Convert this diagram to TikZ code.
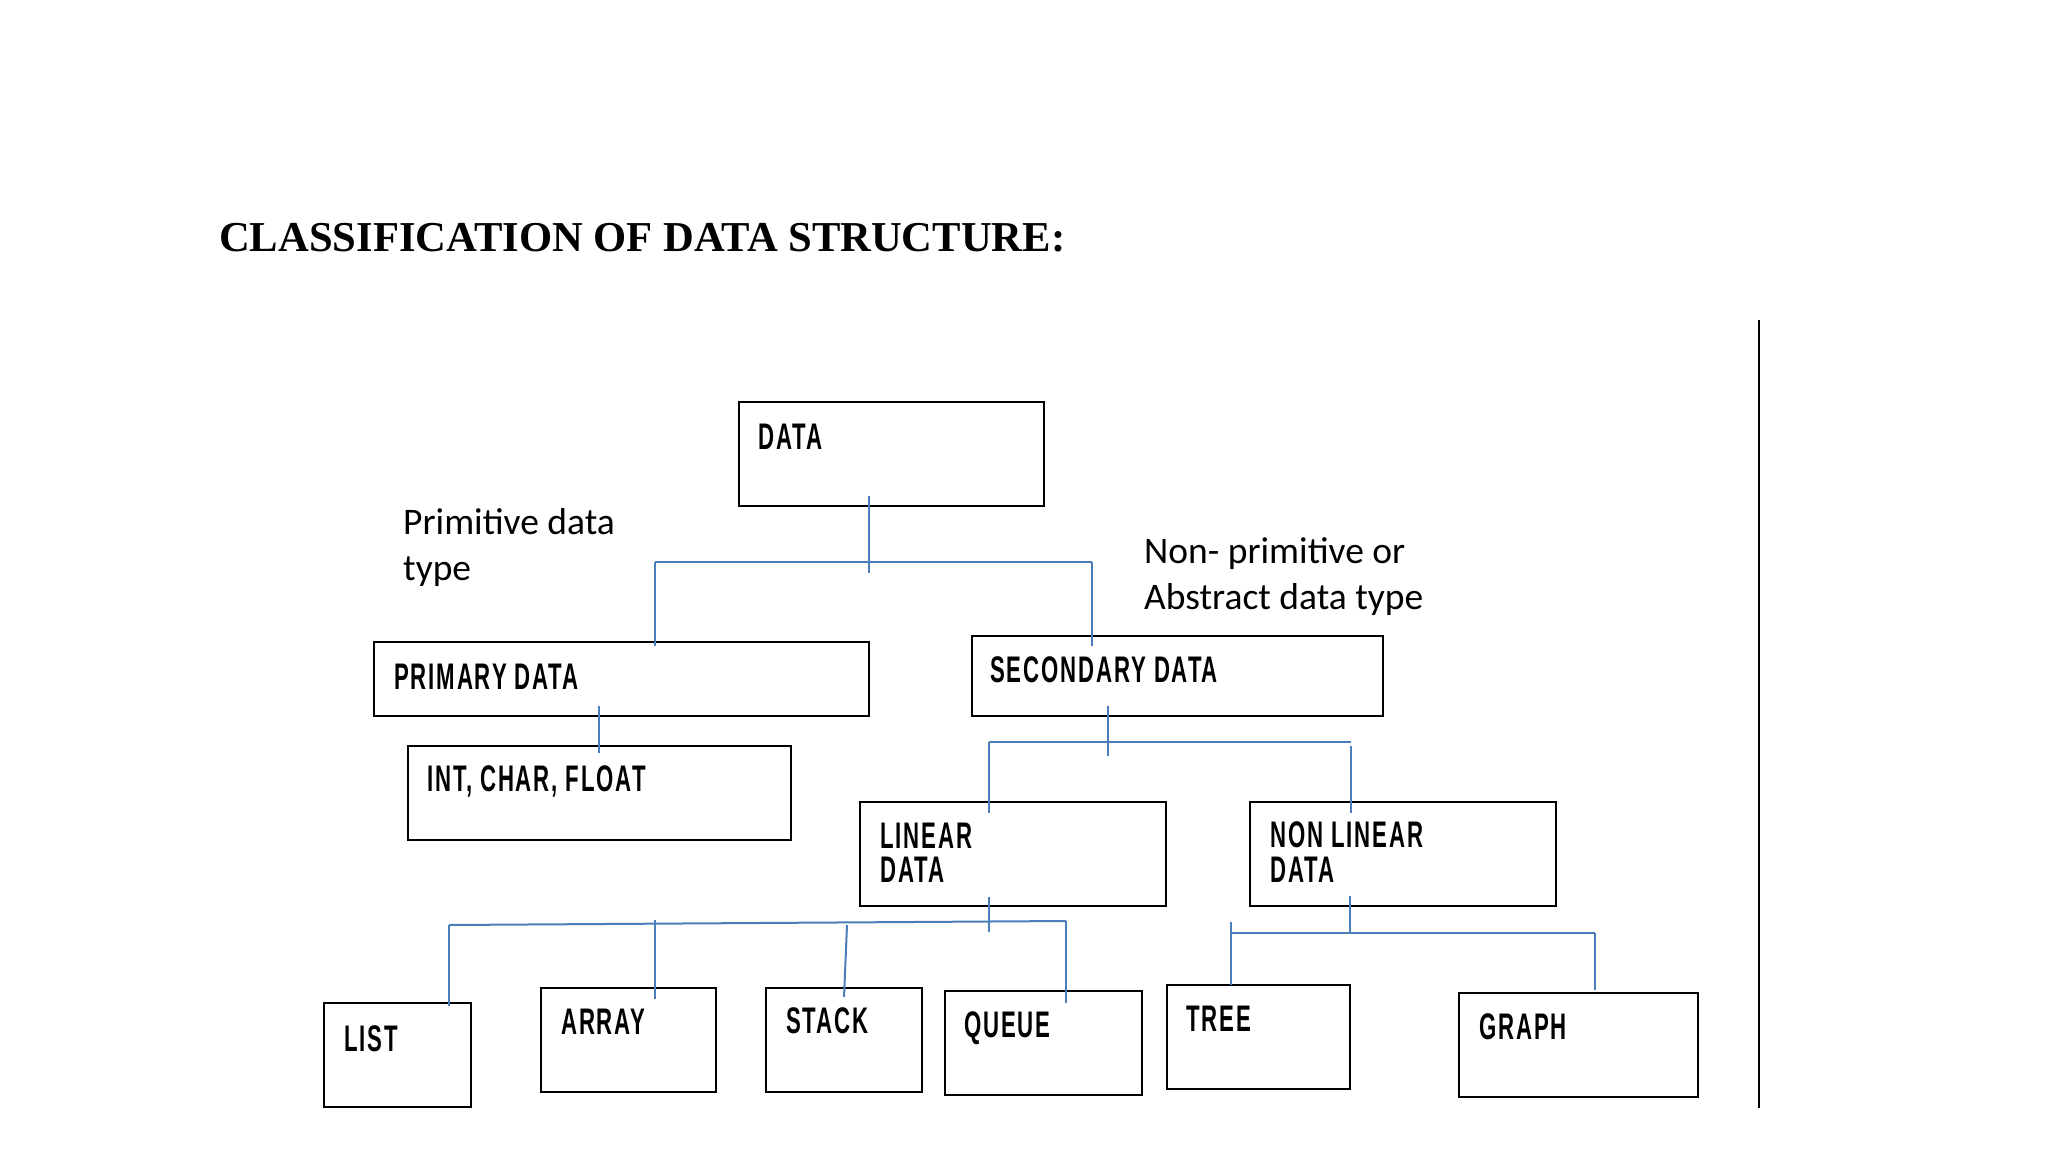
\documentclass[tikz,border=0pt]{standalone}
\usepackage{fontspec}
\setmainfont{Liberation Serif}
\newfontfamily\calibfont{Carlito}
\newfontfamily\boxfont{Liberation Sans}[FakeStretch=0.6,LetterSpace=5]
\usetikzlibrary{calc}
\definecolor{connblue}{HTML}{4A7EBB}
\begin{document}
\begin{tikzpicture}[x=1pt,y=-1pt,
  box/.style={draw=black, line width=1.6pt, anchor=north west, inner sep=0pt, outer sep=0pt},
  btext/.style={anchor=base west, inner sep=0pt, font=\boxfont\bfseries\fontsize{37}{37}\selectfont},
  side/.style={anchor=base west, inner sep=0pt, font=\calibfont\fontsize{37.5}{46}\selectfont},
  conn/.style={draw=connblue, line width=2pt},
  rule/.style={draw=black, line width=2pt}]
\useasboundingbox[fill=white] (0,0) rectangle (2048,1152);

% title
\node[anchor=base west, inner sep=0pt, font=\bfseries\fontsize{42.6}{42.6}\selectfont] (title) at (219,251) {CLASSIFICATION OF DATA STRUCTURE:};

% side labels
\node[side] (pl1) at (403,534) {Primitive data};
\node[side] (pl2) at (403,580) {type};
\node[side] (np1) at (1144,563) {Non- primitive or};
\node[side] (np2) at (1144,609) {Abstract data type};

% boxes
\node[box, minimum width=305pt, minimum height=104pt] (data) at (739,402) {};
\node[box, minimum width=495pt, minimum height=74pt] (prim) at (374,642) {};
\node[box, minimum width=411pt, minimum height=80pt] (sec) at (972,636) {};
\node[box, minimum width=383pt, minimum height=94pt] (int) at (408,746) {};
\node[box, minimum width=306pt, minimum height=104pt] (lin) at (860,802) {};
\node[box, minimum width=306pt, minimum height=104pt] (nonlin) at (1250,802) {};
\node[box, minimum width=147pt, minimum height=104pt] (list) at (324,1003) {};
\node[box, minimum width=175pt, minimum height=104pt] (array) at (541,988) {};
\node[box, minimum width=156pt, minimum height=104pt] (stack) at (766,988) {};
\node[box, minimum width=197pt, minimum height=104pt] (queue) at (945,991) {};
\node[box, minimum width=183pt, minimum height=104pt] (tree) at (1167,985) {};
\node[box, minimum width=239pt, minimum height=104pt] (graph) at (1459,993) {};

% box texts
\node[btext] (tdata) at ($(data.north west)+(19,47)$) {DATA};
\node[btext] (tprim) at ($(prim.north west)+(20,47)$) {PRIMARY DATA};
\node[btext] (tsec) at ($(sec.north west)+(18,46)$) {SECONDARY DATA};
\node[btext] (tint) at ($(int.north west)+(19,45)$) {INT, CHAR, FLOAT};
\node[btext] (tlin1) at ($(lin.north west)+(20,46)$) {LINEAR};
\node[btext] (tlin2) at ($(lin.north west)+(20,80.5)$) {DATA};
\node[btext] (tnl1) at ($(nonlin.north west)+(20,45)$) {NON LINEAR};
\node[btext] (tnl2) at ($(nonlin.north west)+(20,80.5)$) {DATA};
\node[btext] (tlist) at ($(list.north west)+(20,48)$) {LIST};
\node[btext] (tarray) at ($(array.north west)+(20,46)$) {ARRAY};
\node[btext] (tstack) at ($(stack.north west)+(20,45)$) {STACK};
\node[btext] (tqueue) at ($(queue.north west)+(19,46)$) {QUEUE};
\node[btext] (ttree) at ($(tree.north west)+(19,46)$) {TREE};
\node[btext] (tgraph) at ($(graph.north west)+(20,46)$) {GRAPH};

% junction coordinates
\coordinate (s1a) at (869,496);
\coordinate (s1b) at (869,573);
\coordinate (b1l) at (655,562);
\coordinate (b1r) at (1092,562);

\coordinate (s2a) at (599,706);

\coordinate (s3a) at (1108,706);
\coordinate (s3b) at (1108,756);
\coordinate (b3l) at (989,742);
\coordinate (b3r) at (1351,742);
\coordinate (b3rd) at (1351,746);

\coordinate (s4a) at (989,897);
\coordinate (s4b) at (989,932);
\coordinate (b4l) at (449,925);
\coordinate (b4r) at (1066,921);
\coordinate (j4a) at (655,920);
\coordinate (j4s) at (847,925);
\coordinate (j4sb) at (844,997);

\coordinate (s5a) at (1350,896);
\coordinate (s5b) at (1350,933);
\coordinate (b5l) at (1231,933);
\coordinate (b5lt) at (1231,922);
\coordinate (b5r) at (1595,933);

% connectors: DATA
\draw[conn] (s1a) -- (s1b);
\draw[conn] (b1l) -- (b1r);
\draw[conn] (b1l) -- ($(b1l |- prim.north)+(0,4)$);
\draw[conn] (b1r) -- ($(b1r |- sec.north)+(0,10)$);
% PRIMARY -> INT
\draw[conn] (s2a) -- ($(s2a |- int.north)+(0,7)$);
% SECONDARY
\draw[conn] (s3a) -- (s3b);
\draw[conn] (b3l) -- (b3r);
\draw[conn] (b3l) -- ($(b3l |- lin.north)+(0,11)$);
\draw[conn] (b3rd) -- ($(b3rd |- nonlin.north)+(0,11)$);
% LINEAR
\draw[conn] (s4a) -- (s4b);
\draw[conn] (b4l) -- (b4r);
\draw[conn] (b4l) -- ($(b4l |- list.north)+(0,3)$);
\draw[conn] (j4a) -- ($(j4a |- array.north)+(0,11)$);
\draw[conn] (j4s) -- (j4sb);
\draw[conn] (b4r) -- ($(b4r |- queue.north)+(0,12)$);
% NON LINEAR
\draw[conn] (s5a) -- (s5b);
\draw[conn] (b5l) -- (b5r);
\draw[conn] (b5lt) -- (b5lt |- tree.north);
\draw[conn] (b5r) -- ($(b5r |- graph.north)+(0,-3)$);

% right rule
\coordinate (vtop) at (1759,320);
\coordinate (vbot) at (1759,1108);
\draw[rule] (vtop) -- (vbot);
\end{tikzpicture}
\end{document}
